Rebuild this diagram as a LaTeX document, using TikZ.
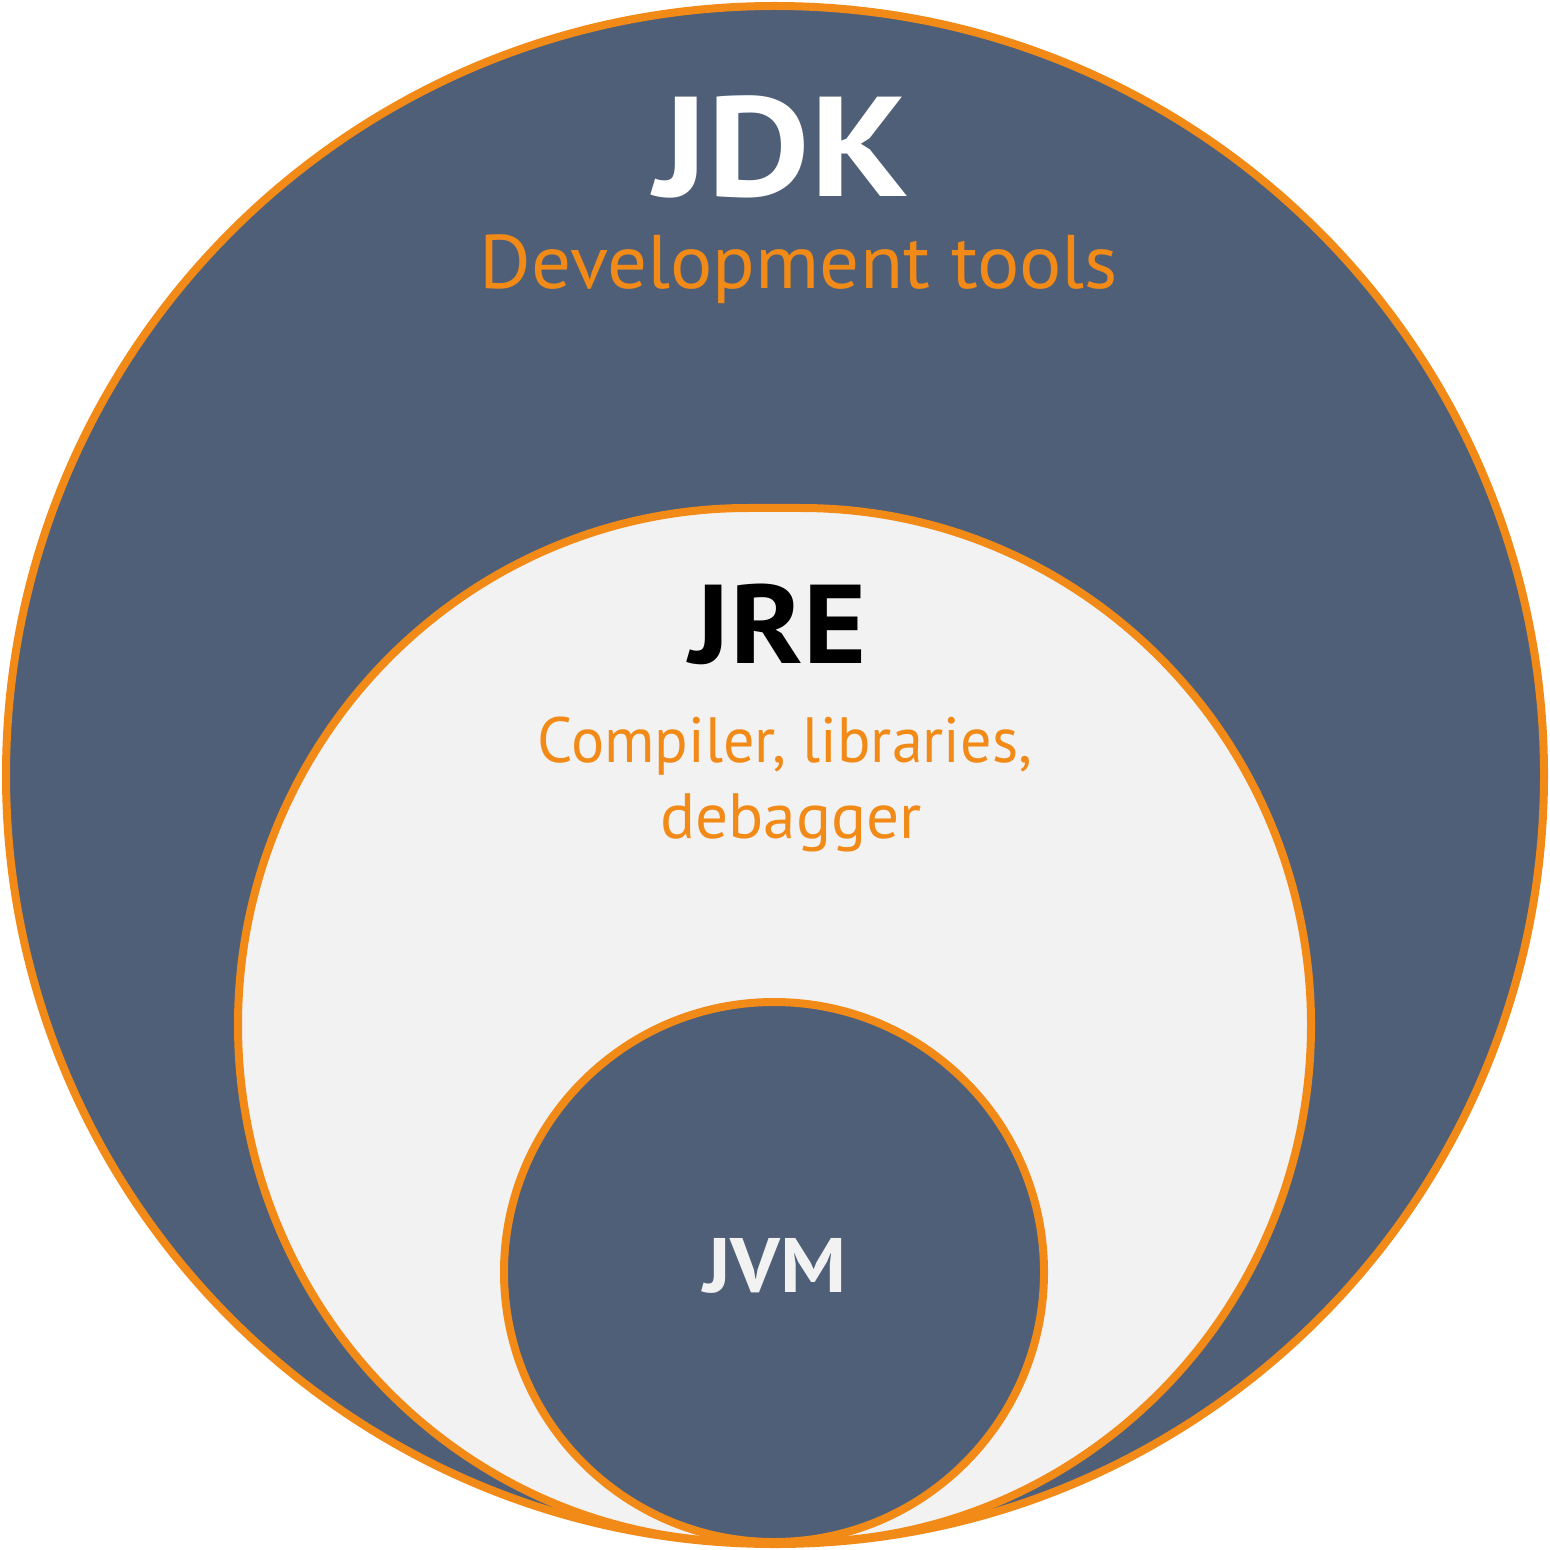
\documentclass[tikz,border=0pt]{standalone}
\usepackage{fontspec}
\setmainfont{PT Sans}
\definecolor{slate}{RGB}{79,95,120}
\definecolor{jorange}{RGB}{242,138,24}
\definecolor{lightbg}{RGB}{242,242,242}
\begin{document}
\begin{tikzpicture}[x=0.5pt,y=0.5pt,
  ring/.style={draw=jorange,line width=4pt},
  title/.style={inner sep=0pt,anchor=base,font=\bfseries},
  desc/.style={inner sep=0pt,anchor=base,text=jorange}]
\useasboundingbox (0,0) rectangle (1549,-1550);
% outer JDK circle
\fill[white] (0,0) rectangle (1549,-1550);
\path[ring,fill=slate] (775,-775) circle[radius=384.5pt];
% middle JRE shape
\path[ring,fill=lightbg] (748,-508) -- (801,-508)
  arc[start angle=90,end angle=-90,x radius=255pt,y radius=258.5pt]
  -- (748,-1542)
  arc[start angle=270,end angle=90,x radius=255pt,y radius=258.5pt] -- cycle;
% inner JVM circle
\path[ring,fill=slate] (774,-1272) circle[radius=135pt];
% texts
\node[title,text=white,xscale=1.12,font=\fontsize{71}{71}\selectfont\bfseries] (jdk) at (782,-197) {JDK};
\node[desc,xscale=1.04,font=\fontsize{38}{38}\selectfont] (jdkdesc) at (799,-289) {Development tools};
\node[title,text=black,xscale=1.08,font=\fontsize{56}{56}\selectfont\bfseries] (jre) at (778,-663) {JRE};
\node[desc,xscale=0.97,font=\fontsize{32}{32}\selectfont] (jredescA) at (785,-762) {Compiler, libraries,};
\node[desc,xscale=1.02,font=\fontsize{32}{32}\selectfont] (jredescB) at (791,-838) {debagger};
\node[title,text=lightbg,xscale=1.07,font=\fontsize{38.6}{38.6}\selectfont\bfseries] (jvm) at (775,-1292) {JVM};
\end{tikzpicture}
\end{document}
